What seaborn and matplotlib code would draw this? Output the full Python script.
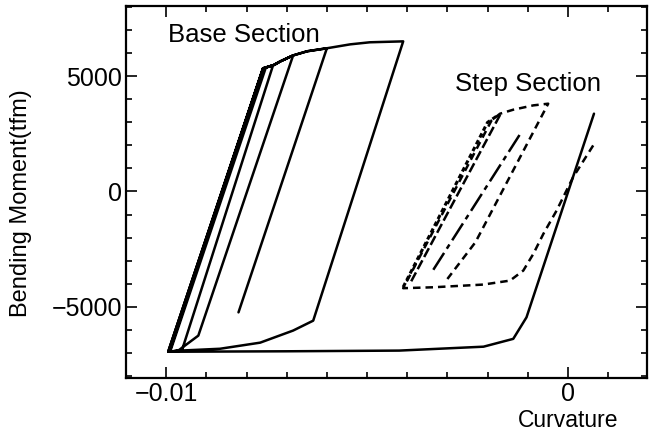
import numpy as np
import pandas as pd
import seaborn as sns
import matplotlib.pyplot as plt
from matplotlib.ticker import MultipleLocator

# --- data -----------------------------------------------------------------
# base section, one continuous solid path (curvature, moment in tfm)
base_curv = [0.00065, -0.00103, -0.00136, -0.0021, -0.0042, -0.0070, -0.00995,
             -0.00759, -0.00734, -0.00961, -0.00990,
             -0.00752, -0.00730, -0.00716, -0.00684, -0.0092, -0.0097, -0.00992,
             -0.00759, -0.00734, -0.00716, -0.00684, -0.00649, -0.00600, -0.00542,
             -0.00493, -0.00410,
             -0.00634, -0.00684, -0.00766, -0.00866, -0.00965, -0.00995,
             -0.00759, -0.00734, -0.00716, -0.00684, -0.00649, -0.00600, -0.0082]
base_mom = [3380, -5465, -6400, -6740, -6910, -6940, -6960,
            5350, 5480, -6910, -6950,
            5380, 5500, 5650, 5910, -6260, -6910, -6955,
            5350, 5480, 5650, 5910, 6090, 6220, 6390,
            6480, 6520,
            -5610, -6040, -6565, -6830, -6910, -6960,
            5350, 5480, 5650, 5910, 6090, 6220, -5250]

# step section, several pieces with their own dash pattern
step_outer_curv = [0.00063, 0.00013, -0.00028, -0.00061, -0.00086, -0.00111, -0.00144,
                   -0.00211, -0.00335, -0.0041, -0.0019, -0.00169, -0.00136,
                   -0.00086, -0.00049, -0.0023, -0.0030]
step_outer_mom = [2000, 620, -826, -1840, -2710, -3435, -3870,
                  -4043, -4160, -4200, 3087, 3378, 3552,
                  3740, 3813, -2200, -3800]
step_dot_curv = [-0.0041, -0.0020, -0.00175]
step_dot_mom = [-4150, 3000, 3300]
step_dash_curv = [-0.0039, -0.00165]
step_dash_mom = [-3900, 3450]
step_dashdot_curv = [-0.00335, -0.00115]
step_dashdot_mom = [-3400, 2600]

FONT = ['Liberation Sans', 'DejaVu Sans']

sns.set_style("ticks")
plt.rcParams['font.family'] = FONT
plt.rcParams.update({"text.color": "black", "axes.labelcolor": "black",
                     "xtick.color": "black", "ytick.color": "black",
                     "axes.edgecolor": "black"})

fig, ax = plt.subplots(figsize=(6.55, 4.38), dpi=100)

def draw(xs, ys, **kw):
    df = pd.DataFrame({"curv": xs, "mom": ys})
    sns.lineplot(data=df, x="curv", y="mom", sort=False, estimator=None,
                 color="black", ax=ax, **kw)

draw(base_curv, base_mom, linewidth=1.8)
draw(step_outer_curv, step_outer_mom, linewidth=1.8, linestyle=(0, (3, 2)))
draw(step_dot_curv, step_dot_mom, linewidth=2.2, linestyle=(0, (1.5, 1)))
draw(step_dash_curv, step_dash_mom, linewidth=1.8, linestyle=(0, (4, 1.5)))
draw(step_dashdot_curv, step_dashdot_mom, linewidth=1.8, linestyle=(0, (8, 2, 2, 2)))

ax.set_xlim(-0.011, 0.00197)
ax.set_ylim(-8100, 8050)
ax.set_xticks([-0.01, 0])
ax.set_xticklabels(["\u22120.01", "0"], family=FONT)
ax.set_yticks([-5000, 0, 5000])
ax.set_yticklabels(["\u22125000", "0", "5000"], family=FONT)
ax.xaxis.set_minor_locator(MultipleLocator(0.001))
ax.yaxis.set_minor_locator(MultipleLocator(1000))
ax.tick_params(which="both", direction="in", top=True, right=True, labelsize=18, width=1.2)
ax.tick_params(which="major", length=8, pad=3)
ax.tick_params(which="minor", length=4)
for s in ax.spines.values():
    s.set_linewidth(1.6)

ax.set_xlabel("Curvature", fontsize=16.5, family=FONT)
ax.xaxis.set_label_coords(0.848, -0.084)
ax.set_ylabel("Bending Moment(tfm)", fontsize=17, family=FONT)
ax.yaxis.set_label_coords(-0.18, 0.47)

ax.text(-0.00995, 6480, "Base Section", fontsize=18.5, family=FONT)
ax.text(-0.00281, 4350, "Step Section", fontsize=18.5, family=FONT)

fig.subplots_adjust(left=0.1924, right=0.9878, bottom=0.137, top=0.986)
fig.savefig("out.png", dpi=100)
